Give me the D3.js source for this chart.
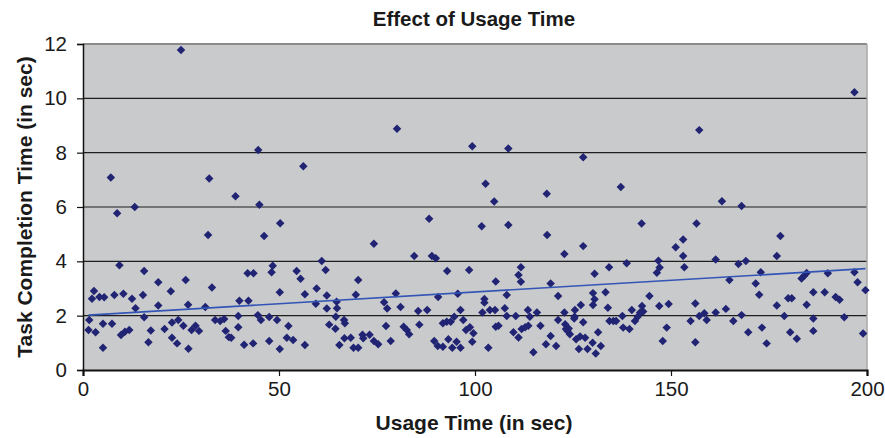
<!DOCTYPE html>
<html><head><meta charset="utf-8">
<script src="https://cdn.jsdelivr.net/npm/d3@7"></script>
<style>
html,body{margin:0;padding:0;background:#fff;}
svg{display:block;font-family:"Liberation Sans",Arial,sans-serif;}
</style></head>
<body><svg id="c" width="885" height="438"></svg>
<script>
const chartTitle = "Effect of Usage Time";
const xTitle = "Usage Time (in sec)";
const yTitle = "Task Completion Time (in sec)";
const xTicks = [0, 50, 100, 150, 200];
const yTicks = [0, 2, 4, 6, 8, 10, 12];

const usageTime = [
25,44.7,7.1,32.2,38.9,45,13.2,
8.7,50.3,31.9,46.2,9.3,48.4,48.1,15.6,19.2,26.2,42,43.5,2.8,2.3,4.2,5.4,8,10.3,12.5,15.3,22.4,32.9,50.2,13.4,19.2,26.8,31.2,39.9,42.2,1.6,15.6,1.4,3.2,5.1,7.4,5.1,9.7,10.7,11.8,17.3,16.7,20.8,22.7,24.3,25.6,22.7,24,26.9,27.7,28.7,29.6,33.7,35,36,36.4,37.2,37.8,39.6,39.6,41.1,43.4,44.6,45.4,47.5,49.5,47.5,50.2,
80.1,99.3,56.2,
88.3,74.2,84.5,89,90,60.9,54.5,61.9,55.5,70.2,92.9,98.5,59.6,56.6,62.2,69.6,79.8,90.6,95.6,59.4,64.7,62.2,64.8,76.8,77.6,81,85.5,87.8,96.3,64.5,52.4,62.8,64.4,66.6,66.8,77.3,81.8,82.6,83.2,85.8,91.8,92.8,93.8,94.7,97,97.7,98.7,99.6,52,53.6,56.6,65.4,66.7,68.3,69,70.2,71.3,71.5,73.1,74.2,75.3,78.5,89.6,90.5,91.8,93.2,94.2,95.3,96.3,99.3,
108.5,127.6,102.7,118.3,137.2,104.9,
101.7,108.5,118.4,142.5,127.6,122.8,111.7,111.1,111.7,105.3,134.2,138.7,130.5,146.8,147.1,146.4,119.3,102.4,102.4,108.1,121.2,101.9,103.8,105.1,107.6,108.1,110.4,113.5,114,115.8,122.8,125.5,127,125.4,130.1,130.5,130.1,133.3,133.9,144.5,142.6,142.9,147,149.4,140,103.4,105.3,106,109.8,111.1,111.9,112.8,113.6,116.7,114.9,118.1,119.3,120.7,121.2,123,123.6,124.2,123.2,123.9,125.3,127.6,125.8,126.8,128.1,126.5,128.7,130,130.8,132.1,131.4,134.3,135.3,136,137.6,137.8,139.4,140.8,141.5,142.1,148.9,147.9,
196.8,157.2,163,168,
156.5,153.1,151.2,177.9,153.1,153.4,161.4,167.2,169.1,177,172.9,164.9,171.6,172.5,183.3,184,184.6,190,196.8,197.6,199.6,186.3,189.2,192,193,179.9,180.8,177,184.6,156.2,157.2,158.5,159.1,155,161.4,164,165.9,168,178.9,186.3,194.2,156.2,169.7,173.2,174.4,180.4,182.1,186.3,199
];
const completionTime = [
11.78,8.1,7.09,7.05,6.4,6.08,6.0,
5.77,5.4,4.97,4.93,3.86,3.84,3.6,3.64,3.23,3.31,3.56,3.56,2.91,2.62,2.69,2.68,2.76,2.81,2.62,2.76,2.9,3.04,2.86,2.27,2.37,2.4,2.32,2.55,2.55,1.84,1.94,1.47,1.39,1.7,1.7,0.82,1.29,1.41,1.47,1.45,1.02,1.51,1.75,1.84,1.63,1.19,0.98,0.78,1.47,1.63,1.44,1.84,1.8,1.88,1.44,1.21,1.19,1.99,1.57,0.93,0.98,2.02,1.84,1.95,1.84,1.07,0.77,
8.88,8.24,7.5,
5.57,4.65,4.2,4.2,4.11,4.01,3.64,3.68,3.36,3.31,3.64,3.68,3.0,2.79,2.74,2.77,2.82,2.69,2.81,2.44,2.51,2.26,2.27,2.49,2.26,2.32,2.17,2.21,2.21,1.96,1.62,1.67,1.52,1.84,1.72,1.62,1.59,1.47,1.32,1.67,1.72,1.78,1.78,1.96,1.84,1.47,1.57,1.35,1.19,1.1,0.92,0.92,1.17,1.19,0.82,0.82,1.3,1.17,1.3,1.07,0.95,1.07,1.07,0.88,0.86,1.13,0.82,1.04,0.82,1.04,
8.15,7.83,6.86,6.49,6.74,6.2,
5.29,5.34,4.97,5.39,4.56,4.27,3.78,3.5,3.25,3.26,3.78,3.93,3.54,4.02,3.77,3.58,3.18,2.61,2.48,2.76,2.72,2.12,2.21,2.21,2.27,1.99,1.99,2.21,1.96,2.12,2.12,2.21,2.39,1.96,2.83,2.6,2.39,2.86,2.29,2.72,2.36,2.15,2.36,2.43,2.21,0.82,1.59,1.63,1.39,1.2,1.51,1.57,1.63,1.63,0.65,0.95,1.25,0.88,1.84,1.68,1.44,1.32,1.51,1.53,1.9,1.76,1.13,1.23,1.19,0.77,0.77,1.0,0.61,0.88,1.39,1.8,1.8,1.8,1.99,1.56,1.51,1.8,1.96,2.12,1.56,1.07,
10.22,8.83,6.21,6.04,
5.39,4.8,4.52,4.93,4.2,3.78,4.07,3.9,4.01,4.2,3.6,3.31,3.18,2.77,3.37,3.47,3.57,3.56,3.6,3.23,2.94,2.86,2.86,2.69,2.59,2.64,2.64,2.37,2.4,2.45,1.99,2.09,1.84,1.8,2.12,2.25,1.8,2.02,1.99,1.9,1.94,1.02,1.39,1.56,0.98,1.39,1.15,1.44,1.34
];
// Linear trendline (spans data range)
const trendX = [1.4, 199.6];
const trendY = [2.02, 3.73];

const svg = d3.select("#c");
const m = {left: 83, right: 867, top: 44, bottom: 370};
const x = d3.scaleLinear().domain([0, 200]).range([m.left, m.right]);
const y = d3.scaleLinear().domain([0, 12]).range([m.bottom, m.top]);

// plot background
svg.append("rect").attr("x", x(0)).attr("y", y(12)).attr("width", x(200) - x(0)).attr("height", y(0) - y(12)).attr("fill", "#c9cacc");

// gridlines
svg.append("g").selectAll("line").data(yTicks.filter(v => v > 0 && v < 12)).join("line")
  .attr("x1", x(0)).attr("x2", x(200)).attr("y1", d => y(d)).attr("y2", d => y(d))
  .attr("stroke", "#1e1e1e").attr("stroke-width", 1.2);
// top & right border
svg.append("line").attr("x1", x(0)).attr("x2", x(200)).attr("y1", y(12)).attr("y2", y(12)).attr("stroke", "#8a8a8a").attr("stroke-width", 2);
svg.append("line").attr("x1", x(200)).attr("x2", x(200)).attr("y1", y(12)).attr("y2", y(0)).attr("stroke", "#a9a9a9").attr("stroke-width", 1.5);

// axes
const yAxis = d3.axisLeft(y).tickValues(yTicks).tickSize(6).tickPadding(10).tickFormat(d3.format("d"));
const gy = svg.append("g").attr("transform", `translate(${x(0)},0)`).call(yAxis);
const xAxis = d3.axisBottom(x).tickValues(xTicks).tickSize(6).tickPadding(5).tickFormat(d3.format("d"));
const gx = svg.append("g").attr("transform", `translate(0,${y(0)})`).call(xAxis);
[gx, gy].forEach(g => {
  g.select(".domain").attr("stroke", "#111").attr("stroke-width", 1.5);
  g.selectAll(".tick line").attr("stroke", "#111").attr("stroke-width", 1.2);
  g.selectAll(".tick text").attr("font-size", 20.5).attr("fill", "#1a1a1a").attr("font-family", "'Liberation Sans',Arial,sans-serif");
});
gx.select(".domain").attr("stroke-width", 2.2);

// points
const pts = usageTime.map((u, i) => ({u, c: completionTime[i]})).filter(d => d.c != null);
const sym = d3.symbol().type(d3.symbolSquare).size(36);
svg.append("g").selectAll("path").data(pts).join("path")
  .attr("d", sym)
  .attr("transform", d => `translate(${x(d.u)},${y(d.c)}) rotate(45)`)
  .attr("fill", "#212473");

// trendline
svg.append("line")
  .attr("x1", x(trendX[0])).attr("y1", y(trendY[0]))
  .attr("x2", x(trendX[1])).attr("y2", y(trendY[1]))
  .attr("stroke", "#3355b5").attr("stroke-width", 1.6);

// titles
svg.append("text").attr("x", 474).attr("y", 26).attr("text-anchor", "middle")
  .attr("font-size", 20.5).attr("font-weight", "bold").attr("fill", "#1a1a1a").text(chartTitle);
svg.append("text").attr("x", 474).attr("y", 430).attr("text-anchor", "middle")
  .attr("font-size", 21).attr("font-weight", "bold").attr("fill", "#1a1a1a").text(xTitle);
svg.append("text").attr("transform", "translate(32,207) rotate(-90)").attr("text-anchor", "middle")
  .attr("font-size", 21).attr("font-weight", "bold").attr("fill", "#1a1a1a").text(yTitle);
</script>
</body></html>
